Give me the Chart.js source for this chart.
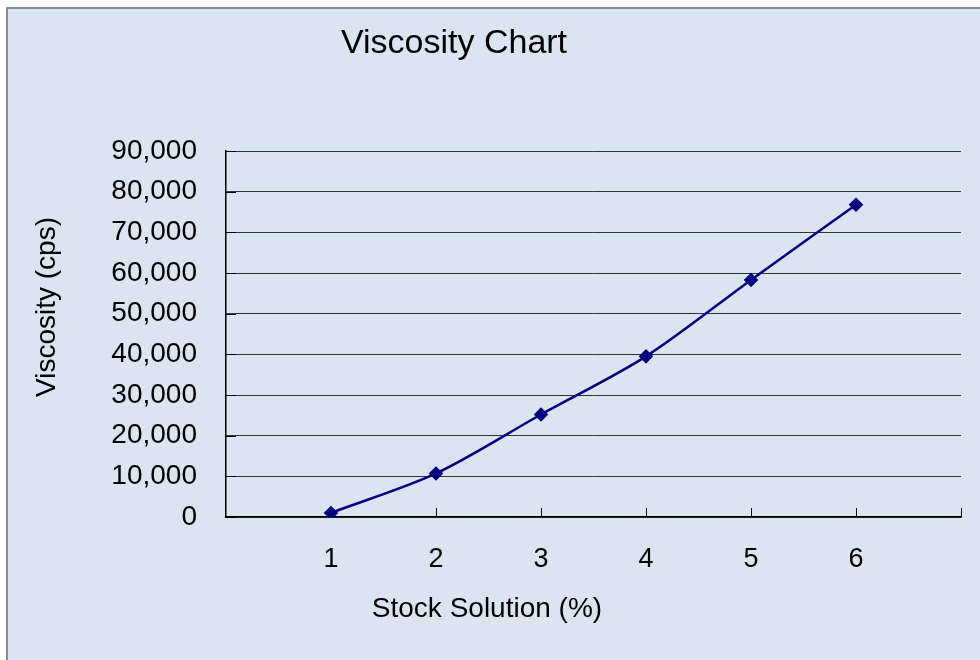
<!DOCTYPE html>
<html>
<head>
<meta charset="utf-8">
<title>Viscosity Chart</title>
<script src="https://cdn.jsdelivr.net/npm/chart.js@4"></script>
<style>
  html, body { margin: 0; padding: 0; background: #fff; }
  #wrap { width: 980px; height: 660px; }
</style>
</head>
<body>
<div id="wrap"><canvas id="viscChart" width="980" height="660"></canvas></div>
<script>
// data
const categories = ['1', '2', '3', '4', '5', '6'];
const stockSolution = [1, 2, 3, 4, 5, 6];
const viscosity = [1000, 10700, 25200, 39500, 58300, 76800];
const yTicks = [0, 10000, 20000, 30000, 40000, 50000, 60000, 70000, 80000, 90000];

const chartTitle = 'Viscosity Chart';
const xTitle = 'Stock Solution (%)';
const yTitle = 'Viscosity (cps)';

const FONT = "'Liberation Sans', Arial, sans-serif";

// panel background, titles and the little inside tick marks
const excelLook = {
  id: 'excelLook',
  beforeDraw(chart) {
    const ctx = chart.ctx;
    ctx.save();
    ctx.fillStyle = '#ffffff';
    ctx.fillRect(0, 0, chart.width, chart.height);
    ctx.fillStyle = '#dbe5f1';
    ctx.fillRect(6, 7, chart.width, chart.height);
    ctx.strokeStyle = '#8c8c8c';
    ctx.lineWidth = 2;
    ctx.beginPath();
    ctx.moveTo(7, chart.height);
    ctx.lineTo(7, 8);
    ctx.lineTo(chart.width, 8);
    ctx.stroke();
    ctx.restore();
  },
  beforeDatasetsDraw(chart) {
    const ctx = chart.ctx;
    const x = chart.scales.x, y = chart.scales.y;
    ctx.save();
    ctx.strokeStyle = '#000';
    ctx.lineWidth = 1;
    ctx.beginPath();
    yTicks.forEach(v => {
      const py = Math.round(y.getPixelForValue(v)) + 0.5;
      ctx.moveTo(x.left, py);
      ctx.lineTo(x.left + 10, py);
    });
    for (let v = 1; v <= 7; v++) {
      const px = Math.round(x.getPixelForValue(v)) + 0.5;
      ctx.moveTo(px, y.bottom);
      ctx.lineTo(px, y.bottom - 9);
    }
    ctx.stroke();
    ctx.restore();
  },
  afterDraw(chart) {
    const ctx = chart.ctx;
    ctx.save();
    ctx.fillStyle = '#000';
    ctx.textAlign = 'center';
    ctx.textBaseline = 'alphabetic';
    ctx.font = '34px ' + FONT;
    ctx.fillText(chartTitle, 454, 53);
    ctx.font = '28px ' + FONT;
    ctx.fillText(xTitle, 487, 617);
    ctx.translate(55, 307);
    ctx.rotate(-Math.PI / 2);
    ctx.fillText(yTitle, 0, 0);
    ctx.restore();
  }
};

new Chart(document.getElementById('viscChart'), {
  type: 'line',
  data: {
    datasets: [{
      label: yTitle,
      data: stockSolution.map((s, i) => ({ x: s, y: viscosity[i] })),
      borderColor: '#000080',
      backgroundColor: '#000080',
      borderWidth: 2.5,
      tension: 0.3,
      pointStyle: 'rectRot',
      pointRadius: 5.5,
      pointHoverRadius: 5.5,
      fill: false
    }]
  },
  options: {
    responsive: false,
    animation: false,
    layout: { padding: { left: 0, top: 151, right: 19, bottom: 0 } },
    plugins: {
      legend: { display: false },
      title: { display: false },
      tooltip: { enabled: false }
    },
    scales: {
      x: {
        type: 'linear',
        min: 0,
        max: 7,
        // the label padding would otherwise eat into the right side
        afterFit: s => { s.height = 143; s.paddingRight = 0; s.paddingLeft = 0; },
        grid: { display: false, drawTicks: false },
        border: { display: true, color: '#000', width: 1.5 },
        ticks: {
          stepSize: 1,
          autoSkip: false,
          maxRotation: 0,
          padding: 26,
          color: '#000',
          font: { family: FONT, size: 27 },
          callback: v => {
            const i = stockSolution.indexOf(v);
            return i >= 0 ? categories[i] : '';
          }
        }
      },
      y: {
        min: 0,
        max: 90000,
        afterFit: s => { s.width = 226; },
        grid: { color: '#333', lineWidth: 1, drawTicks: false },
        border: { display: true, color: '#000', width: 1.5 },
        ticks: {
          stepSize: 10000,
          padding: 29,
          color: '#000',
          font: { family: FONT, size: 28 },
          callback: v => v.toLocaleString('en-US')
        }
      }
    }
  },
  plugins: [excelLook]
});
</script>
</body>
</html>
